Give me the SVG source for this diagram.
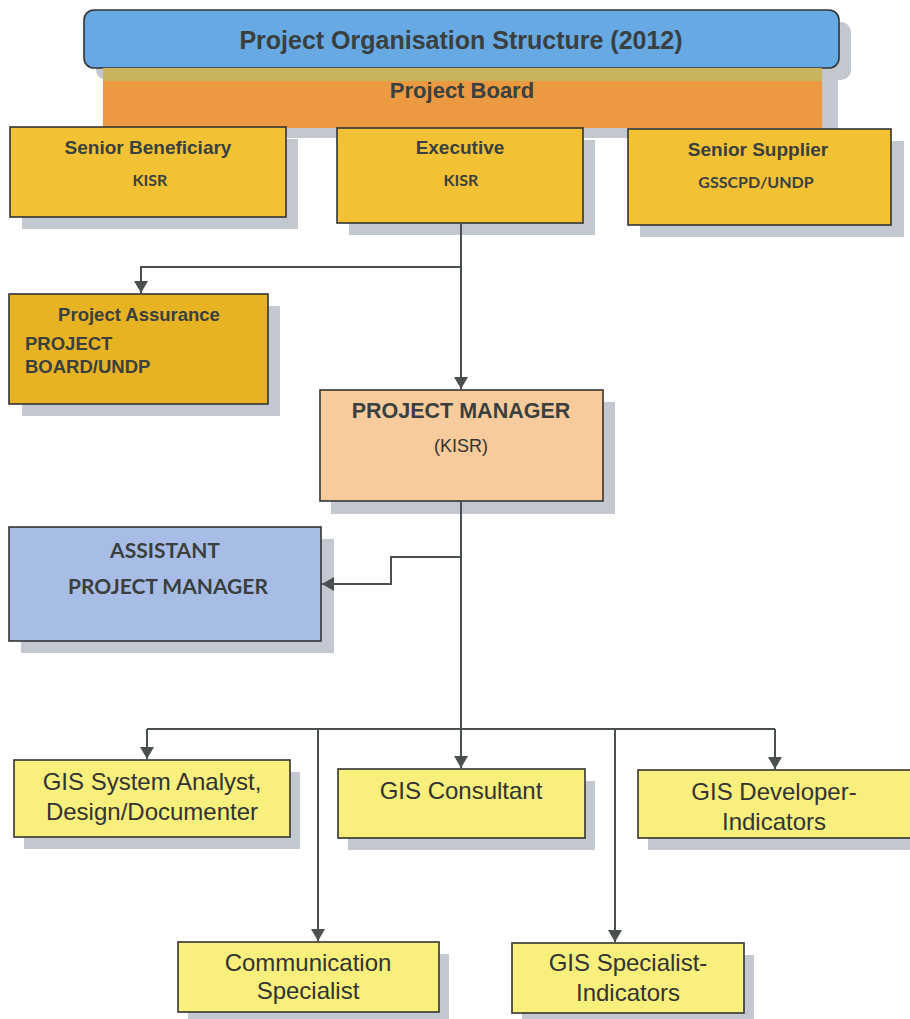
<svg xmlns="http://www.w3.org/2000/svg" width="910" height="1019" viewBox="0 0 910 1019">
<style>
.box{stroke:#333;stroke-width:1.6}
.sh{fill:#c3c7cf}
.b{font-family:"Liberation Sans",Arial,sans-serif;font-weight:bold;fill:#3a3f3f;text-anchor:middle}
.bs{font-family:"Liberation Sans",Arial,sans-serif;font-weight:bold;fill:#3a3f3f;text-anchor:start}
.c{font-family:Lato,"Liberation Sans",sans-serif;font-weight:bold;fill:#3a3f3f;text-anchor:middle}
.n{font-family:"Liberation Sans",Arial,sans-serif;fill:#333;text-anchor:middle}
.ln{fill:none;stroke:#4a4f4f;stroke-width:2}
</style>
<defs>
<marker id="ah" viewBox="0 0 12 14" refX="12" refY="7" markerWidth="12" markerHeight="14" markerUnits="userSpaceOnUse" orient="auto">
<path d="M0,0 L12,7 L0,14 Z" fill="#4a4f4f"/>
</marker>
</defs>
<rect width="910" height="1019" fill="#ffffff"/>

<g id="title">
<rect class="sh" x="96" y="22" width="755" height="58" rx="10"/>
<rect class="box" x="84" y="10" width="755" height="58" rx="10" fill="#67a9e2"/>
<text class="b" x="461" y="49" font-size="25">Project Organisation Structure (2012)</text>
</g>

<g id="project-board">
<rect class="sh" x="115" y="78" width="723" height="60"/>
<rect x="103" y="68" width="719" height="60" fill="#eb9a42"/>
<rect x="103" y="68" width="719" height="13" fill="#c8b45e"/>
<text class="b" x="462" y="98" font-size="22">Project Board</text>
</g>

<g id="senior-beneficiary">
<rect class="sh" x="22" y="139" width="276" height="90"/>
<rect class="box" x="10" y="127" width="276" height="90" fill="#f3c234"/>
<text class="b" x="148" y="154" font-size="19">Senior Beneficiary</text>
<text class="c" x="150" y="186" font-size="16">KISR</text>
</g>

<g id="executive">
<rect class="sh" x="349" y="140" width="246" height="95"/>
<rect class="box" x="337" y="128" width="246" height="95" fill="#f3c234"/>
<text class="b" x="460" y="154" font-size="19">Executive</text>
<text class="c" x="461" y="186" font-size="16">KISR</text>
</g>

<g id="senior-supplier">
<rect class="sh" x="640" y="141" width="264" height="96"/>
<rect class="box" x="628" y="129" width="263" height="96" fill="#f3c234"/>
<text class="b" x="758" y="156" font-size="19">Senior Supplier</text>
<text class="c" x="756" y="188" font-size="16">GSSCPD/UNDP</text>
</g>

<g id="project-assurance">
<rect class="sh" x="22" y="306" width="258" height="110"/>
<rect class="box" x="9" y="294" width="259" height="110" fill="#e8b322"/>
<text class="b" x="139" y="321" font-size="18.5">Project Assurance</text>
<text class="bs" x="25" y="350" font-size="18.5">PROJECT</text>
<text class="bs" x="25" y="373" font-size="18.5">BOARD/UNDP</text>
</g>

<g id="project-manager">
<rect class="sh" x="331" y="402" width="284" height="112"/>
<rect class="box" x="320" y="390" width="283" height="111" fill="#f8cb9c"/>
<text class="b" x="461" y="418" font-size="21.5">PROJECT MANAGER</text>
<text class="n" x="461" y="452" font-size="18">(KISR)</text>
</g>

<g id="assistant-pm">
<rect class="sh" x="21" y="539" width="313" height="114"/>
<rect class="box" x="9" y="527" width="312" height="114" fill="#a8bde5"/>
<text class="c" x="165" y="558" font-size="21">ASSISTANT</text>
<text class="c" x="168" y="594" font-size="21">PROJECT MANAGER</text>
</g>

<g id="gis-analyst">
<rect class="sh" x="24" y="772" width="276" height="77"/>
<rect class="box" x="14" y="760" width="276" height="77" fill="#f8ef7c"/>
<text class="n" x="152" y="790" font-size="24">GIS System Analyst,</text>
<text class="n" x="152" y="820" font-size="24">Design/Documenter</text>
</g>

<g id="gis-consultant">
<rect class="sh" x="348" y="781" width="247" height="69"/>
<rect class="box" x="338" y="769" width="247" height="69" fill="#f8ef7c"/>
<text class="n" x="461" y="799" font-size="24">GIS Consultant</text>
</g>

<g id="gis-developer">
<rect class="sh" x="648" y="782" width="262" height="68"/>
<rect class="box" x="638" y="770" width="275" height="68" fill="#f8ef7c"/>
<text class="n" x="774" y="800" font-size="24">GIS Developer-</text>
<text class="n" x="774" y="830" font-size="24">Indicators</text>
</g>

<g id="communication">
<rect class="sh" x="188" y="954" width="261" height="70"/>
<rect class="box" x="178" y="942" width="261" height="70" fill="#f8ef7c"/>
<text class="n" x="308" y="971" font-size="24">Communication</text>
<text class="n" x="308" y="999" font-size="24">Specialist</text>
</g>

<g id="gis-specialist">
<rect class="sh" x="522" y="955" width="232" height="70"/>
<rect class="box" x="512" y="943" width="232" height="70" fill="#f8ef7c"/>
<text class="n" x="628" y="971" font-size="24">GIS Specialist-</text>
<text class="n" x="628" y="1001" font-size="24">Indicators</text>
</g>

<g id="connectors">
<path class="ln" d="M461,223 V389" marker-end="url(#ah)"/>
<path class="ln" d="M461,267 H141 V293" marker-end="url(#ah)"/>
<path class="ln" d="M461,501 V729"/>
<path class="ln" d="M461,557 H391 V584 H322" marker-end="url(#ah)"/>
<path class="ln" d="M147,729 H775"/>
<path class="ln" d="M147,729 V759" marker-end="url(#ah)"/>
<path class="ln" d="M461,729 V768" marker-end="url(#ah)"/>
<path class="ln" d="M775,729 V769" marker-end="url(#ah)"/>
<path class="ln" d="M318,729 V941" marker-end="url(#ah)"/>
<path class="ln" d="M615,729 V942" marker-end="url(#ah)"/>
</g>
</svg>
